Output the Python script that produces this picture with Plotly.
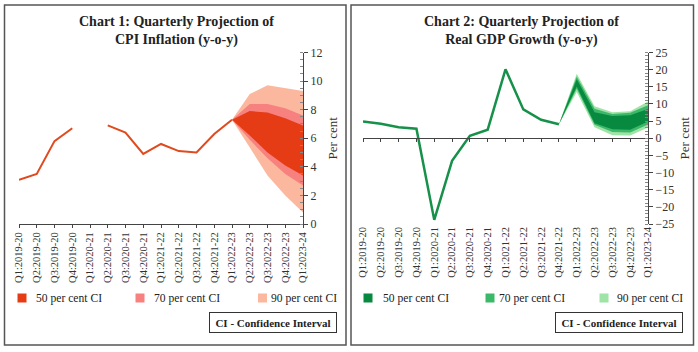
import plotly.graph_objects as go

quarters = ["Q1:2019-20", "Q2:2019-20", "Q3:2019-20", "Q4:2019-20",
            "Q1:2020-21", "Q2:2020-21", "Q3:2020-21", "Q4:2020-21",
            "Q1:2021-22", "Q2:2021-22", "Q3:2021-22", "Q4:2021-22",
            "Q1:2022-23", "Q2:2022-23", "Q3:2022-23", "Q4:2022-23",
            "Q1:2023-24"]

# CPI inflation (actual / outturn)
cpi_actual = [3.1, 3.5, 5.8, 6.7, None, 6.9, 6.4, 4.9, 5.6, 5.1, 5.0, 6.3, 7.3,
              None, None, None, None]
cpi_fan_q = quarters[12:]
cpi_50_upper = [7.3, 7.9, 7.8, 7.4, 6.9]
cpi_50_lower = [7.3, 6.2, 5.0, 4.1, 3.4]
cpi_70_upper = [7.3, 8.4, 8.4, 8.1, 7.6]
cpi_70_lower = [7.3, 5.9, 4.6, 3.5, 2.7]
cpi_90_upper = [7.3, 9.1, 9.7, 9.5, 9.3]
cpi_90_lower = [7.3, 5.4, 3.4, 2.0, 0.8]

# Real GDP growth
gdp_actual = [4.9, 4.2, 3.2, 2.8, -23.8, -6.6, 0.7, 2.5, 20.1, 8.4, 5.4, 4.1,
              None, None, None, None, None]
gdp_fan_q = quarters[11:]
gdp_50_upper = [4.1, 17.2, 7.6, 6.5, 6.7, 8.5]
gdp_50_lower = [4.1, 15.1, 4.4, 2.6, 2.5, 4.9]
gdp_70_upper = [4.1, 18.0, 8.6, 7.1, 7.4, 9.6]
gdp_70_lower = [4.1, 14.4, 3.9, 1.8, 1.7, 4.0]
gdp_90_upper = [4.1, 18.8, 9.3, 7.6, 7.9, 10.7]
gdp_90_lower = [4.1, 13.5, 3.2, 0.9, 0.8, 3.1]

ci_labels = ["50 per cent CI", "70 per cent CI", "90 per cent CI"]

RED = ["#e63c16", "#f7817f", "#fbb89e"]
RED_LINE = "#e04a1e"
GREEN = ["#07893f", "#3cb86a", "#9fe3a6"]
GREEN_LINE = "#17914a"

W, H = 698, 352
SERIF = "Liberation Serif, DejaVu Serif, serif"
TXT = "#222222"

def px(x):
    return x / W

def py(y):
    return 1 - y / H

idx = {q: i for i, q in enumerate(quarters)}

fig = go.Figure()

def add_fan(fan_q, bands, colors, xa, ya):
    xs = [idx[q] for q in fan_q]
    for (up, lo), col in zip(bands, colors):
        fig.add_trace(go.Scatter(
            x=xs + xs[::-1], y=up + lo[::-1], fill="toself", fillcolor=col,
            line=dict(width=0, color=col), mode="lines", hoverinfo="skip",
            showlegend=False, xaxis=xa, yaxis=ya))

# CPI fan (90 -> 70 -> 50)
add_fan(cpi_fan_q,
        [(cpi_90_upper, cpi_90_lower), (cpi_70_upper, cpi_70_lower), (cpi_50_upper, cpi_50_lower)],
        [RED[2], RED[1], RED[0]], "x", "y")
fig.add_trace(go.Scatter(x=list(range(len(quarters))), y=cpi_actual, mode="lines",
                         line=dict(color=RED_LINE, width=2), connectgaps=False,
                         showlegend=False, xaxis="x", yaxis="y"))

# GDP fan
add_fan(gdp_fan_q,
        [(gdp_90_upper, gdp_90_lower), (gdp_70_upper, gdp_70_lower), (gdp_50_upper, gdp_50_lower)],
        [GREEN[2], GREEN[1], GREEN[0]], "x2", "y2")
fig.add_trace(go.Scatter(x=list(range(len(quarters))), y=gdp_actual, mode="lines",
                         line=dict(color=GREEN_LINE, width=2.5), connectgaps=False,
                         showlegend=False, xaxis="x3", yaxis="y2"))

ydom = [py(224), py(52.5)]
xtick = dict(tickmode="array", tickvals=list(range(len(quarters))), ticktext=quarters,
             tickangle=-90, tickfont=dict(family=SERIF, size=10.5, color="#333"),
             range=[0, 16], showgrid=False, zeroline=False, fixedrange=True,
             automargin=False)

fig.update_layout(
    width=W, height=H, margin=dict(l=0, r=0, t=0, b=0, autoexpand=False),
    paper_bgcolor="white", plot_bgcolor="white",
    font=dict(family=SERIF, color=TXT),
    showlegend=False,
    xaxis=dict(domain=[px(19), px(303)], anchor="y", showline=True, linecolor="#444",
               linewidth=1, ticks="outside", ticklen=3, tickcolor="#444", **xtick),
    yaxis=dict(domain=ydom, anchor="x", side="right", range=[0, 12], dtick=2,
               showline=True, linecolor="#444", linewidth=1, ticks="outside",
               ticklen=4, tickcolor="#444", showgrid=False, zeroline=False,
               automargin=False,
               tickfont=dict(family=SERIF, size=12, color="#333"),
               minor=dict(ticks="inside", ticklen=3, dtick=0.5, tickcolor="#888"),
               title=dict(text="Per cent", font=dict(family=SERIF, size=13, color="#333"),
                          standoff=6)),
    xaxis2=dict(domain=[px(363), px(648)], anchor="y2", showline=False, ticks="",
                **xtick),
    xaxis3=dict(overlaying="x2", anchor="free", position=(ydom[0] + ydom[1]) / 2,
                showline=True, linecolor="#444", linewidth=1, ticks="outside",
                ticklen=3, tickcolor="#444", showticklabels=False,
                tickmode="array", tickvals=list(range(len(quarters))),
                range=[0, 16], showgrid=False, zeroline=False, automargin=False),
    yaxis2=dict(domain=ydom, anchor="x2", side="right", range=[-25, 25], dtick=5,
                showline=True, linecolor="#444", linewidth=1, ticks="outside",
                ticklen=4, tickcolor="#444", showgrid=False, zeroline=False,
                automargin=False,
                tickfont=dict(family=SERIF, size=12, color="#333"),
                minor=dict(ticks="inside", ticklen=3, dtick=1, tickcolor="#888"),
                title=dict(text="Per cent", font=dict(family=SERIF, size=13, color="#333"),
                           standoff=6)),
)

# titles
fig.add_annotation(text="<b>Chart 1: Quarterly Projection of<br>CPI Inflation (y-o-y)</b>",
                   x=px(176), y=py(12), xref="paper", yref="paper", xanchor="center",
                   yanchor="top", showarrow=False, align="center",
                   font=dict(family=SERIF, size=14, color=TXT))
fig.add_annotation(text="<b>Chart 2: Quarterly Projection of<br>Real GDP Growth (y-o-y)</b>",
                   x=px(521), y=py(12), xref="paper", yref="paper", xanchor="center",
                   yanchor="top", showarrow=False, align="center",
                   font=dict(family=SERIF, size=14, color=TXT))

# legends (colour keys)
sq_left = [22, 140, 262.5]
txt_left = [34, 152, 269]
sq_right = [368, 490, 604]
txt_right = [381, 497, 615]
for sqs, txs, cols in ((sq_left, txt_left, RED), (sq_right, txt_right, GREEN)):
    for cx, tx, lab, col in zip(sqs, txs, ci_labels, cols):
        fig.add_shape(type="rect", xref="paper", yref="paper",
                      x0=px(cx - 4.5), x1=px(cx + 4.5), y0=py(302.5), y1=py(293.5),
                      line=dict(width=0), fillcolor=col)
        fig.add_annotation(text=lab, x=px(tx), y=py(298), xref="paper",
                           yref="paper", xanchor="left", yanchor="middle",
                           showarrow=False,
                           font=dict(family=SERIF, size=11.6, color=TXT))

# CI boxes
for cx in (273, 619):
    fig.add_annotation(text="<b>CI - Confidence Interval</b>", x=px(cx), y=py(322.5),
                       xref="paper", yref="paper", xanchor="center", yanchor="middle",
                       showarrow=False, bordercolor="#333", borderwidth=1, borderpad=3,
                       width=120, height=13,
                       bgcolor="white", font=dict(family=SERIF, size=11, color=TXT))

# panel frames
for x0, x1 in ((4.5, 346), (351, 693.5)):
    fig.add_shape(type="rect", xref="paper", yref="paper", x0=px(x0), x1=px(x1),
                  y0=py(345), y1=py(5), line=dict(color="#555", width=1.5),
                  fillcolor="rgba(0,0,0,0)", layer="above")

fig.write_html("out.html")
